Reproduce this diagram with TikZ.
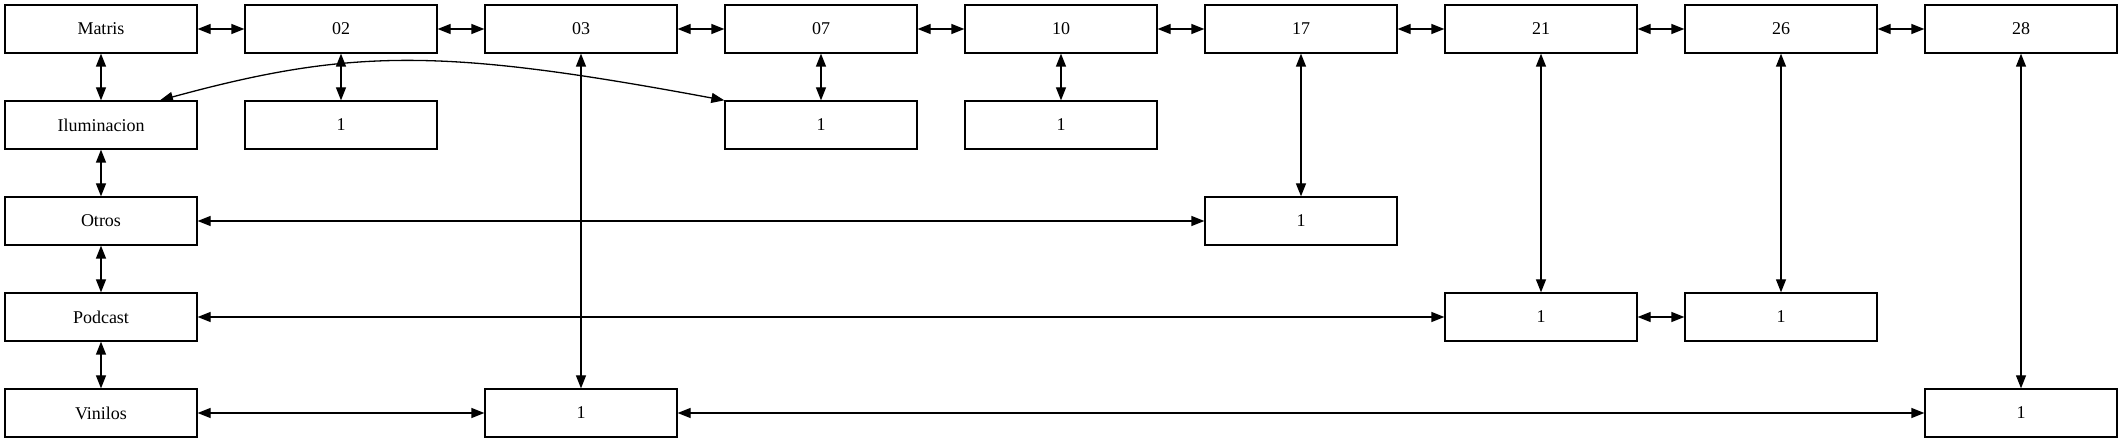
\documentclass[tikz,border=0pt]{standalone}
\usepackage{fontspec}
\setmainfont{Liberation Serif}
\usetikzlibrary{arrows.meta}
\begin{document}
\begin{tikzpicture}[x=1pt,y=1pt,
  box/.style={draw, line width=1.3pt, minimum width=192pt, minimum height=48pt, inner sep=0pt, font=\fontsize{18}{22}\selectfont},
  bi/.style={line width=1.3pt, {Triangle[length=13pt,width=10pt]}-{Triangle[length=13pt,width=10pt]}}]
\useasboundingbox (0,0) rectangle (2123,-443);
% row 1
\node[box] (m) at (101,-29) {Matris};
\node[box] (d02) at (341,-29) {02};
\node[box] (d03) at (581,-29) {03};
\node[box] (d07) at (821,-29) {07};
\node[box] (d10) at (1061,-29) {10};
\node[box] (d17) at (1301,-29) {17};
\node[box] (d21) at (1541,-29) {21};
\node[box] (d26) at (1781,-29) {26};
\node[box] (d28) at (2021,-29) {28};
% row 2
\node[box] (il) at (101,-125) {Iluminacion};
\node[box] (a02) at (341,-125) {1};
\node[box] (a07) at (821,-125) {1};
\node[box] (a10) at (1061,-125) {1};
% row 3
\node[box] (ot) at (101,-221) {Otros};
\node[box] (b17) at (1301,-221) {1};
% row 4
\node[box] (po) at (101,-317) {Podcast};
\node[box] (c21) at (1541,-317) {1};
\node[box] (c26) at (1781,-317) {1};
% row 5
\node[box] (vi) at (101,-413) {Vinilos};
\node[box] (e03) at (581,-413) {1};
\node[box] (e28) at (2021,-413) {1};
% top row chain
\draw[bi] (m) -- (d02);
\draw[bi] (d02) -- (d03);
\draw[bi] (d03) -- (d07);
\draw[bi] (d07) -- (d10);
\draw[bi] (d10) -- (d17);
\draw[bi] (d17) -- (d21);
\draw[bi] (d21) -- (d26);
\draw[bi] (d26) -- (d28);
% left column
\draw[bi] (m) -- (il);
\draw[bi] (il) -- (ot);
\draw[bi] (ot) -- (po);
\draw[bi] (po) -- (vi);
% verticals
\draw[bi] (d02) -- (a02);
\draw[bi] (d07) -- (a07);
\draw[bi] (d10) -- (a10);
\draw[bi] (d17) -- (b17);
\draw[bi] (d21) -- (c21);
\draw[bi] (d26) -- (c26);
\draw[bi] (d28) -- (e28);
\draw[bi] (d03) -- (e03);
% horizontals
\draw[bi] (ot) -- (b17);
\draw[bi] (po) -- (c21);
\draw[bi] (c21) -- (c26);
\draw[bi] (vi) -- (e03);
\draw[bi] (e03) -- (e28);
% curve
\draw[bi] ([xshift=59pt]il.north) .. controls (352,-48) and (443,-48) .. (a07.north west);
\end{tikzpicture}
\end{document}
